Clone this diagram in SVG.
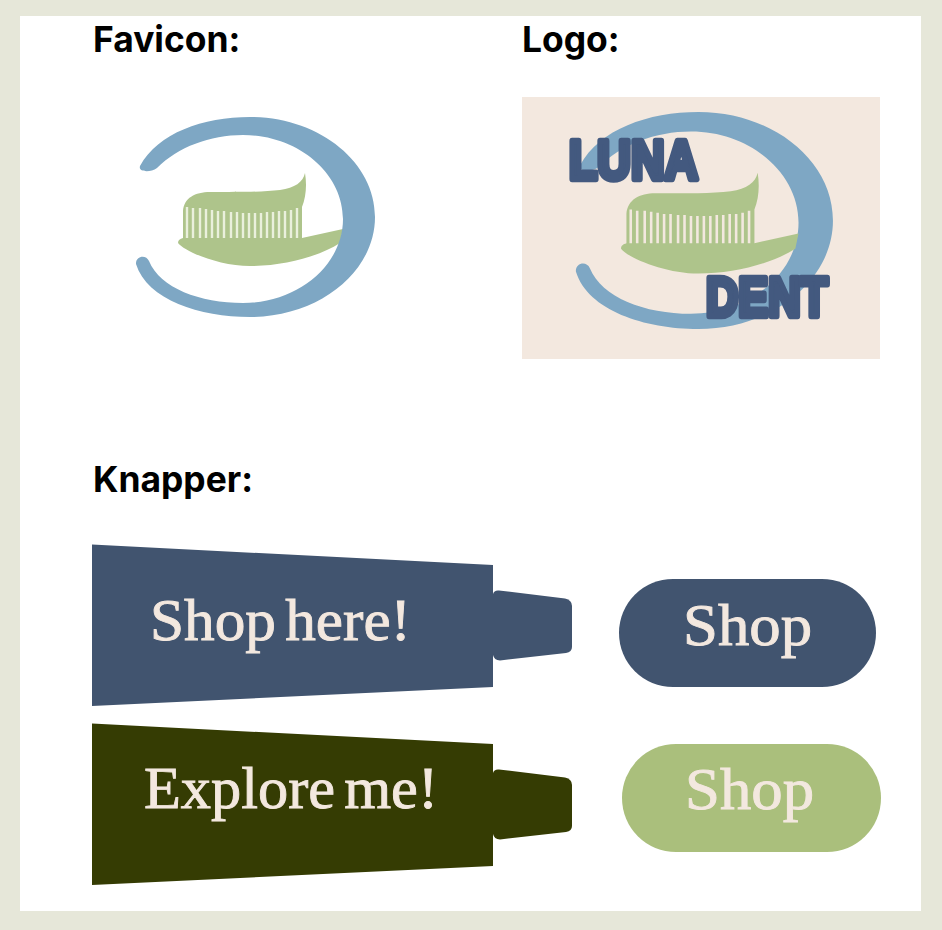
<svg xmlns="http://www.w3.org/2000/svg" width="942" height="930" viewBox="0 0 942 930">
<style>
.h{font-family:Inter,"Liberation Sans",sans-serif;font-weight:700;font-size:35.4px;fill:#000}
.b{font-family:"Liberation Serif",serif;font-size:60px;fill:#f3e8df;stroke:#f3e8df;stroke-width:.9}
.l{font-family:"Liberation Sans",sans-serif;font-weight:700;font-size:56px;fill:#43597f;stroke:#43597f;stroke-width:6.500;stroke-linejoin:round}
.c{fill:#7ea7c4}.g{fill:#aec48b}
.t1{fill:#41546f}.t2{fill:#353c03}
</style>
<defs>
<path id="crescent" d="M140 166C158 133 203 117 250 117C319 117 375 162 375 217C375 272 319 317 250 317C200 317 147 300 136 264C135.500 256 146 254 149 261C160 288 200 303 243 303C298 303 343 265 343 219C343 173 298 135 243 135C210 135 178 147 157 168C150 173 138 172 140 166Z"/>
<path id="brush" d="M183 238L183 211C184 198 195 192 210 192C240 192 262 192 280 190C295 188 303 182 305 173C307 185 306 197 302 207L302 238L343 229L340 243C318 257 283 266 250 266C220 266 185 252 178 243C178 240 180 239 183 238Z"/>
<path id="bristles" d="M187 207V238M193 208V238M200 208V238M206 209V238M212 210V238M218 211V238M224 211V238M231 212V238M237 212V238M243 213V238M249 213V238M255 213V238M261 213V238M267 212V238M273 212V238M279 211V238M285 211V238M291 210V238M297 208V238" fill="none" stroke-width="2.4"/>
</defs>
<rect id="mat" width="942" height="930" fill="#e6e7d9"/>
<rect id="sheet" x="20" y="16" width="901" height="895" fill="#fff"/>

<g id="favicon">
<text class="h" x="93" y="52">Favicon:</text>
<use href="#brush" class="g"/>
<use href="#bristles" stroke="#eaf0dc"/>
<use href="#crescent" class="c"/>
</g>

<g id="logo">
<text class="h" x="522" y="52">Logo:</text>
<rect x="522" y="97" width="358" height="262" fill="#f3e8df"/>
<g transform="translate(429.6 -15) scale(1.0756 1.085)">
<use href="#crescent" class="c"/>
<use href="#brush" class="g"/>
<use href="#bristles" stroke="#f3e8df"/>
</g>
<text class="l" x="569" y="179" textLength="129" lengthAdjust="spacingAndGlyphs">LUNA</text>
<text class="l" x="706" y="316" textLength="122" lengthAdjust="spacingAndGlyphs">DENT</text>
</g>

<g id="knapper-title"><text class="h" x="93" y="492">Knapper:</text></g>

<g id="tube-blue">
<path class="t1" d="M92 544.500L493 565V687L92 706Z"/>
<path class="t1" d="M493 594Q494 590 499 590.500L565 598.500Q572 600 572 606V647Q572 652 566 653L500 660.500Q494 660 493 655Z"/>
<text class="b" x="150" y="640" textLength="261" lengthAdjust="spacingAndGlyphs" word-spacing="-6">Shop here!</text>
</g>
<g id="tube-green">
<path class="t2" d="M92 723.500L493 744V866L92 885Z"/>
<path class="t2" d="M493 773Q494 769 499 769.500L565 777.500Q572 779 572 785V826Q572 831 566 832L500 839.500Q494 839 493 834Z"/>
<text class="b" x="144" y="808" textLength="294" lengthAdjust="spacingAndGlyphs" word-spacing="-6">Explore me!</text>
</g>
<g id="shop-blue">
<rect x="619" y="579" width="257" height="108" rx="54" fill="#41546f"/>
<text class="b" x="683" y="645" textLength="129" lengthAdjust="spacingAndGlyphs">Shop</text>
</g>
<g id="shop-green">
<rect x="622" y="744" width="259" height="108" rx="54" fill="#aabf7c"/>
<text class="b" x="685" y="809" textLength="129" lengthAdjust="spacingAndGlyphs">Shop</text>
</g>
<g id="connectors"/>
</svg>
